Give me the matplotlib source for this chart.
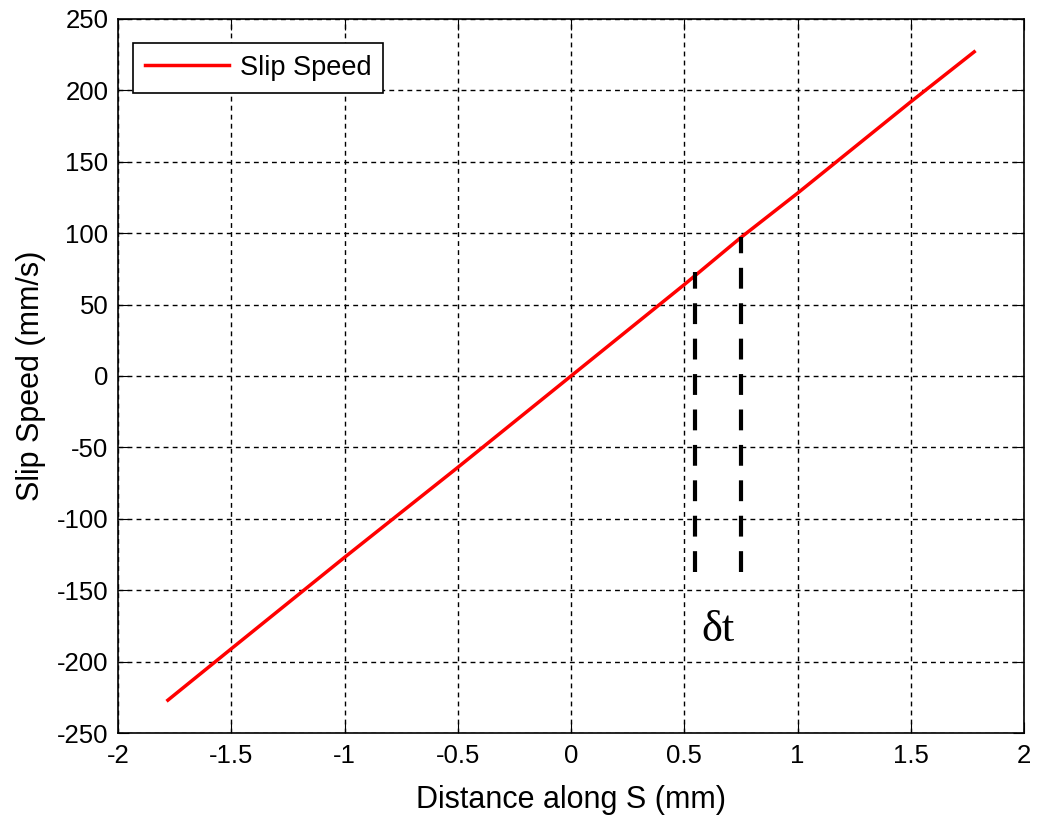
import matplotlib
matplotlib.use('Agg')
import matplotlib.pyplot as plt

# slip speed curve
dist = [-1.78, -1.5, -1.0, -0.5, 0.0, 0.5, 0.75, 1.0, 1.5, 1.78]
speed = [-227, -191, -127, -64, 0, 64, 97, 128, 192, 227]

# the two markers for delta t
mark_x = [0.547, 0.75]
mark_top = [73, 97]
mark_bottom = -137

plt.rcParams['font.family'] = ['Liberation Sans', 'DejaVu Sans']
plt.rcParams['axes.unicode_minus'] = False

fig = plt.figure(figsize=(10.41, 8.18), dpi=100)
ax = fig.add_axes([0.1134, 0.1039, 0.8703, 0.8729])

ax.plot(dist, speed, color='red', lw=2.5, label='Slip Speed', zorder=3)

for x, top in zip(mark_x, mark_top):
    ax.vlines(x, mark_bottom, top, colors='black', lw=3, linestyles=(0, (5, 3.5)), zorder=4)

ax.text(0.65, -178, 'δt', fontsize=32, family=['Liberation Serif', 'DejaVu Serif'],
        ha='center', va='center')

ax.set_xlim(-2, 2)
ax.set_ylim(-250, 250)
ax.set_xticks([-2, -1.5, -1, -0.5, 0, 0.5, 1, 1.5, 2])
ax.set_xticklabels(['-2', '-1.5', '-1', '-0.5', '0', '0.5', '1', '1.5', '2'])
ax.set_yticks(range(-250, 251, 50))
ax.grid(True, color='black', linestyle=(0, (3.5, 3)), lw=1)
ax.tick_params(direction='in', top=True, right=True, length=8, labelsize=18.5)
ax.tick_params(axis='x', pad=8)
ax.tick_params(axis='y', pad=7)
for s in ax.spines.values():
    s.set_linewidth(1.2)

ax.set_xlabel('Distance along S (mm)', fontsize=22, labelpad=12)
ax.set_ylabel('Slip Speed (mm/s)', fontsize=22, labelpad=8)

leg = ax.legend(loc='upper left', bbox_to_anchor=(0.016, 0.967), borderaxespad=0,
                fontsize=19.5, fancybox=False, framealpha=1, borderpad=0.45,
                edgecolor='black', handlelength=3.1, handletextpad=0.4)
leg.get_frame().set_linewidth(1.2)

fig.savefig('out.png', dpi=100)
